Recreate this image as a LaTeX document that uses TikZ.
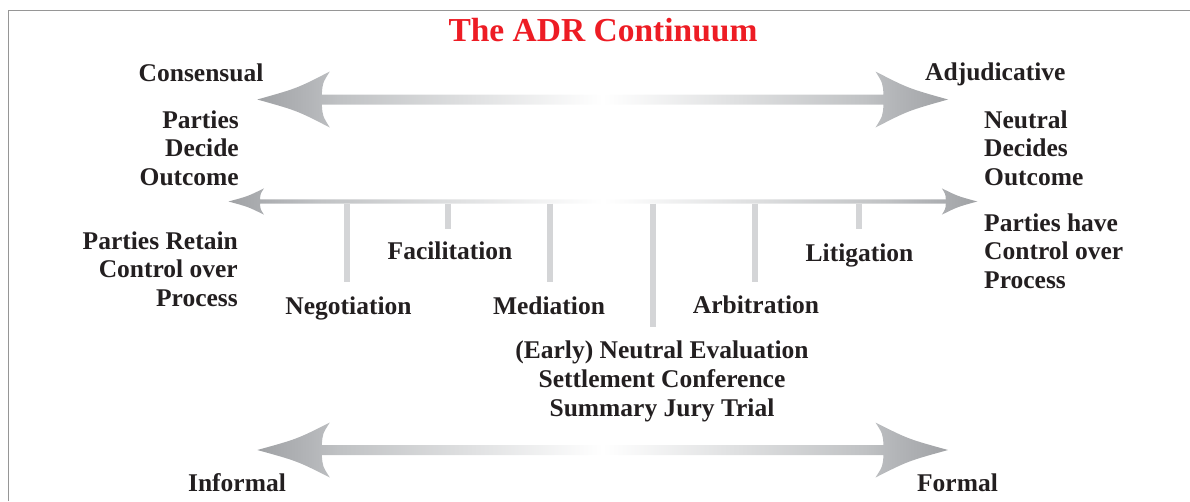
\documentclass[tikz,border=0pt]{standalone}
\usepackage{fontspec}
\setmainfont{Liberation Serif}
\usepackage{tikz}
\usetikzlibrary{calc,positioning}
\usepackage{xcolor}
\definecolor{adrdark}{RGB}{160,162,165}
\definecolor{adrhead}{RGB}{180,182,185}
\definecolor{adrshaft}{RGB}{192,194,196}
\definecolor{tickgray}{RGB}{212,213,215}
\definecolor{framegray}{RGB}{150,150,150}
\definecolor{titlered}{RGB}{237,28,36}
\definecolor{inkblack}{RGB}{35,31,32}
\pgfdeclarehorizontalshading{adrfade}{100bp}{color(0bp)=(adrdark); color(25bp)=(adrdark); color(29bp)=(adrhead); color(31bp)=(adrshaft); color(50bp)=(white); color(69bp)=(adrshaft); color(71bp)=(adrhead); color(75bp)=(adrdark); color(100bp)=(adrdark)}
\newcommand{\labfont}{\fontsize{25.5}{28.5}\selectfont\bfseries}
\tikzset{
  lab/.style={font=\labfont, text=inkblack, inner sep=0pt},
  ttl/.style={font=\fontsize{33.5}{38}\selectfont\bfseries, text=titlered, inner sep=0pt},
  tickmark/.style={draw=tickgray, line width=6pt},
}
% #1,#2 tips; #3 head length; #4 half width; #5 half shaft; #6 notch
\newcommand{\adrarrow}[6]{%
  \shade[shading=adrfade]
    (#1) .. controls ($(#1)+(0.55*#3,-0.4*#4)$) .. ($(#1)+(#3,-#4)$)
    .. controls ($(#1)+(#3-0.9*#6,-0.5*#4-0.5*#5)$) .. ($(#1)+(#3-#6,-#5)$)
    -- ($(#2)+(-#3+#6,-#5)$)
    .. controls ($(#2)+(-#3+0.9*#6,-0.5*#4-0.5*#5)$) .. ($(#2)+(-#3,-#4)$)
    .. controls ($(#2)+(-0.55*#3,-0.4*#4)$) .. (#2)
    .. controls ($(#2)+(-0.55*#3,0.4*#4)$) .. ($(#2)+(-#3,#4)$)
    .. controls ($(#2)+(-#3+0.9*#6,0.5*#4+0.5*#5)$) .. ($(#2)+(-#3+#6,#5)$)
    -- ($(#1)+(#3-#6,#5)$)
    .. controls ($(#1)+(#3-0.9*#6,0.5*#4+0.5*#5)$) .. ($(#1)+(#3,#4)$)
    .. controls ($(#1)+(0.55*#3,0.4*#4)$) .. (#1) -- cycle;
}
\begin{document}
\begin{tikzpicture}[x=1pt,y=-1pt]
  \useasboundingbox (0,0) rectangle (1190,501);
  \draw[framegray, line width=1.6pt] (8.4,501) -- (8.4,10.5) -- (1190,10.5);

  \node[ttl, anchor=base] (title) at (603,41.7) {The ADR Continuum};

  % the three scales
  \coordinate (consTip) at (257.3,99.5);
  \coordinate (adjTip) at (948,99.5);
  \coordinate (procL) at (228.5,201.5);
  \coordinate (procR) at (977.3,201.5);
  \coordinate (infTip) at (257.3,450);
  \coordinate (formTip) at (948,450);
  \adrarrow{consTip}{adjTip}{72.5}{28}{5}{8}
  \adrarrow{procL}{procR}{35.5}{13.2}{2.2}{4}
  \adrarrow{infTip}{formTip}{72.5}{27.5}{5}{8}

  \foreach \x/\b/\n in {347/281.7/neg, 448/229.3/fac, 550/281.7/med, 653/326.7/ene, 754.6/281.7/arb, 858.7/229.3/lit} {
    \coordinate (tk\n) at (\x,203.5);
    \coordinate (tb\n) at (\x,\b);
    \draw[tickmark] (tk\n) -- (tb\n);
  }

  % multi-line blocks sit on their last line
  \node[lab, anchor=base west] (cons) at (138.5,81.7) {Consensual};
  \node[lab, anchor=base west] (adj) at (925,80) {Adjudicative};
  \node[lab, anchor=base east, align=right] (pdec) at (239,185) {Parties\\Decide\\Outcome};
  \node[lab, anchor=base west, align=left] (ndec) at (984,185) {Neutral\\Decides\\Outcome};
  \node[lab, anchor=base east, align=right] (pret) at (238,306) {Parties Retain\\Control over\\Process};
  \node[lab, anchor=base west, align=left] (phave) at (984,288.3) {Parties have\\Control over\\Process};

  \node[lab, anchor=base] (fac) at (450,259.3) {Facilitation};
  \node[lab, anchor=base] (lit) at (859.5,261.7) {Litigation};
  \node[lab, anchor=base] (neg) at (348.5,314) {Negotiation};
  \node[lab, anchor=base] (med) at (549,314) {Mediation};
  \node[lab, anchor=base] (arb) at (756,313.3) {Arbitration};
  \node[lab, anchor=base, align=center, font=\fontsize{25.5}{29.2}\selectfont\bfseries] (ene) at (662,416.7) {(Early) Neutral Evaluation\\Settlement Conference\\Summary Jury Trial};

  \node[lab, anchor=base] (inf) at (237,491.7) {Informal};
  \node[lab, anchor=base] (form) at (957.5,491.7) {Formal};
\end{tikzpicture}
\end{document}
